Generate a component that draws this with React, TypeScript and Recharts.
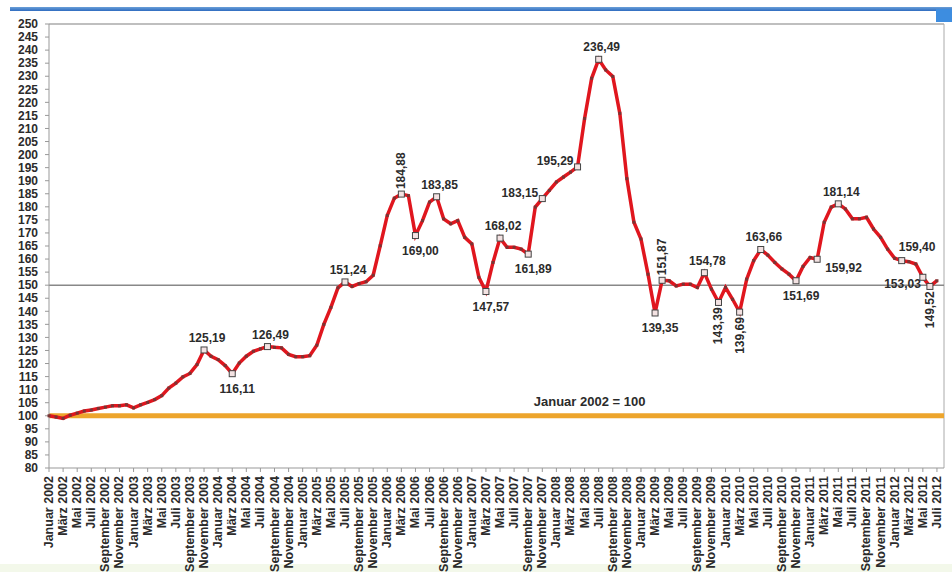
import React from "react";
import {
  LineChart,
  Line,
  XAxis,
  YAxis,
  ReferenceLine,
  LabelList,
} from "recharts";

const MONTHS = [
  "Januar", "Februar", "März", "April", "Mai", "Juni",
  "Juli", "August", "September", "Oktober", "November", "Dezember",
];
const YEARS = [2002, 2003, 2004, 2005, 2006, 2007, 2008, 2009, 2010, 2011, 2012];

// Januar 2002 .. August 2012 (the last month is an empty slot on the axis)
const categories = YEARS.flatMap((y) => MONTHS.map((m) => `${m} ${y}`)).slice(0, 128);

const indexValues: (number | null)[] = [
  100.0, 99.5, 99.0, 100.2, 101.0, 101.8, 102.2, 102.8, 103.3, 103.8, 103.8, 104.2,
  103.0, 104.2, 105.1, 106.2, 107.7, 110.6, 112.5, 114.9, 116.2, 119.6, 125.19, 122.8,
  121.5, 119.2, 116.11, 120.2, 122.8, 124.7, 125.6, 126.49, 126.2, 126.0, 123.5, 122.6,
  122.6, 123.0, 127.0, 135.0, 141.5, 149.0, 151.24, 149.5, 150.6, 151.3, 153.8, 165.1,
  176.7, 183.3, 184.88, 184.3, 169.0, 174.7, 181.8, 183.85, 175.4, 173.5, 174.7, 168.3,
  165.8, 153.0, 147.57, 158.7, 168.02, 164.5, 164.5, 163.8, 161.89, 179.9, 183.15, 186.3,
  189.5, 191.4, 193.3, 195.29, 213.8, 229.2, 236.49, 232.4, 229.9, 215.8, 190.8, 174.1,
  167.7, 154.2, 139.35, 151.87, 151.7, 149.7, 150.4, 150.4, 149.1, 154.78, 148.5, 143.39,
  149.1, 144.6, 139.69, 152.3, 159.4, 163.66, 161.5, 158.7, 156.2, 154.2, 151.69, 157.2,
  160.6, 159.92, 174.1, 179.9, 181.14, 179.2, 175.4, 175.4, 176.0, 171.5, 168.3, 163.8,
  160.3, 159.4, 159.0, 158.1, 153.03, 149.52, 151.7, null,
];

const yTicks = [
  80, 85, 90, 95, 100, 105, 110, 115, 120, 125, 130, 135, 140, 145, 150, 155, 160, 165,
  170, 175, 180, 185, 190, 195, 200, 205, 210, 215, 220, 225, 230, 235, 240, 245, 250,
];

const baseValue = 100;
const baseLabel = "Januar 2002 = 100";

// where the value labels go, by month index
const labelSpot: Record<number, string> = {
  22: "top", 26: "bottom", 31: "top", 42: "top", 50: "vtop", 52: "bottom", 55: "top",
  62: "bottom", 64: "top", 68: "bottom", 70: "left", 75: "left", 78: "top", 86: "bottom",
  87: "vtop", 93: "top", 95: "vbottom", 98: "vbottom", 101: "top", 106: "bottom",
  109: "bottomRight", 112: "top", 121: "topRight", 124: "bottomLeft", 125: "vbottom",
};

const data = categories.map((c, i) => ({ month: c, value: indexValues[i] }));

const FONT = "'Liberation Sans', Arial, sans-serif";
const TXT = "#2b2b2b";

const fmt = (v: number) => v.toFixed(2).replace(".", ",");

function MonthTick(props: any) {
  const { x, y, payload } = props;
  const tx = x + 4;
  return (
    <text
      x={tx}
      y={y}
      transform={`rotate(-90, ${tx}, ${y})`}
      textAnchor="end"
      fontSize={12.5}
      fontWeight="bold"
      fontFamily={FONT}
      fill={TXT}
    >
      {payload.value}
    </text>
  );
}

function renderDot(props: any) {
  const { cx, cy, index, value } = props;
  if (value == null || cx == null || cy == null) return <g key={`d${index}`} />;
  if (labelSpot[index]) {
    return (
      <rect
        key={`d${index}`}
        x={cx - 3}
        y={cy - 3}
        width={6}
        height={6}
        fill="#f3e2e2"
        stroke="#444"
        strokeWidth={1}
      />
    );
  }
  return (
    <rect key={`d${index}`} x={cx - 1.5} y={cy - 1.5} width={3} height={3} fill="#7a3434" />
  );
}

function renderLabel(props: any) {
  const { x, y, index, value } = props;
  const spot = labelSpot[index];
  if (!spot || value == null) return null;
  const common = {
    fontSize: 12,
    fontWeight: "bold" as const,
    fontFamily: FONT,
    fill: TXT,
  };
  const t = fmt(Number(value));
  switch (spot) {
    case "top":
      return <text x={x + 3} y={y - 8} textAnchor="middle" {...common}>{t}</text>;
    case "bottom":
      return <text x={x + 5} y={y + 19} textAnchor="middle" {...common}>{t}</text>;
    case "left":
      return <text x={x - 4} y={y - 2} textAnchor="end" {...common}>{t}</text>;
    case "bottomRight":
      return <text x={x + 8} y={y + 13} textAnchor="start" {...common}>{t}</text>;
    case "topRight":
      return <text x={x - 3} y={y - 10} textAnchor="start" {...common}>{t}</text>;
    case "bottomLeft":
      return <text x={x - 2} y={y + 11} textAnchor="end" {...common}>{t}</text>;
    case "vtop":
      return (
        <text x={x + 4} y={y - 5} transform={`rotate(-90, ${x + 4}, ${y - 5})`} textAnchor="start" {...common}>
          {t}
        </text>
      );
    case "vbottom":
      return (
        <text x={x + 4} y={y + 5} transform={`rotate(-90, ${x + 4}, ${y + 5})`} textAnchor="end" {...common}>
          {t}
        </text>
      );
    default:
      return null;
  }
}

function BaseLabel(props: any) {
  const vb = props.viewBox || {};
  return (
    <text
      x={vb.x + vb.width * 0.604}
      y={vb.y - 10}
      textAnchor="middle"
      fontSize={13}
      fontWeight="bold"
      fontFamily={FONT}
      fill={TXT}
    >
      {baseLabel}
    </text>
  );
}

export default function App() {
  return (
    <div style={{ position: "absolute", left: 0, top: 0, width: 952, height: 572, background: "#fff", overflow: "hidden" }}>
      <div style={{ position: "absolute", left: 0, top: 564, width: 952, height: 8, background: "#f3f8ea" }} />
      <div
        style={{
          position: "absolute",
          left: 10,
          top: 7,
          width: 942,
          height: 4,
          background: "linear-gradient(to bottom, #6a9fd8, #2f6cc0)",
        }}
      />
      <div style={{ position: "absolute", left: 936, top: 9, width: 16, height: 13, background: "#3d8de0" }} />
      <div style={{ position: "absolute", left: 0, top: 0 }}>
        <LineChart
          width={952}
          height={572}
          data={data}
          margin={{ top: 24, right: 8, bottom: 0, left: 0 }}
        >
          <XAxis
            dataKey="month"
            interval={1}
            height={104}
            tick={<MonthTick />}
            tickSize={4}
            tickMargin={4}
            axisLine={{ stroke: "#999" }}
            tickLine={{ stroke: "#999" }}
          />
          <YAxis
            domain={[80, 250]}
            ticks={yTicks}
            interval={0}
            width={49}
            tickSize={4}
            tickMargin={7}
            axisLine={{ stroke: "#999" }}
            tickLine={{ stroke: "#999" }}
            tick={{ fontSize: 12, fontWeight: "bold", fontFamily: FONT, fill: TXT }}
          />
          <ReferenceLine y={250} stroke="#aaa" strokeWidth={1.5} />
          <ReferenceLine x={categories[categories.length - 1]} stroke="#aaa" strokeWidth={1} />
          <ReferenceLine y={150} stroke="#888" strokeWidth={1.5} />
          <ReferenceLine y={baseValue} stroke="#eda52c" strokeWidth={5} label={<BaseLabel />} />
          <Line
            type="linear"
            dataKey="value"
            stroke="#e0161e"
            strokeWidth={3.5}
            dot={renderDot}
            activeDot={false}
            connectNulls={false}
            isAnimationActive={false}
          >
            <LabelList dataKey="value" content={renderLabel} />
          </Line>
        </LineChart>
      </div>
    </div>
  );
}
